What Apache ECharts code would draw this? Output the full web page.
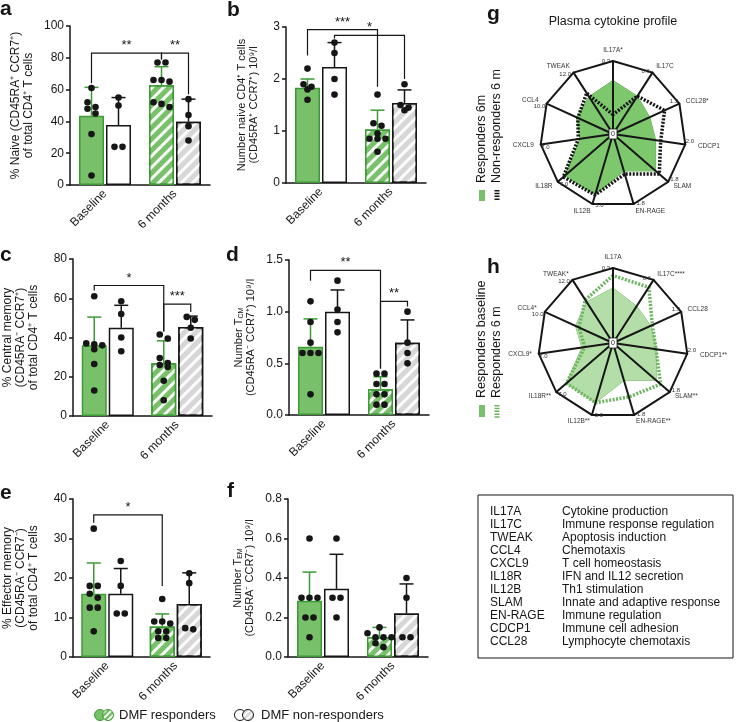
<!DOCTYPE html>
<html>
<head>
<meta charset="utf-8">
<script src="https://cdn.jsdelivr.net/npm/echarts@6/dist/echarts.min.js"></script>
<style>
html, body { margin: 0; padding: 0; background: #fff; }
#main { width: 737px; height: 722px; }
</style>
</head>
<body>
<div id="main"></div>
<script>
const FONT = 'Liberation Sans, Arial, Helvetica, sans-serif'
const GREEN = '#78c06a'
const GREEN_LINE = '#3d9a35'
const GREY = '#d7d7d7'
const INK = '#161616'

const groups = ['Baseline', '6 months']
// every panel: responders baseline, non-responders baseline, responders 6 m, non-responders 6 m

// a - % naive
const aTicks = [0, 20, 40, 60, 80, 100]
const aMean = [43.6, 37.7, 62.7, 39.8]
const aSd = [17.8, 17.3, 11.7, 14.2]
const aDots = [[61, 52, 49, 48, 45, 32, 6], [55, 50, 24, 24], [77, 77, 66, 66, 65, 52, 51, 49], [54, 44, 37, 28]]
const aSig = [[0, 2, 83, 64, 79, '**'], [2, 3, 83, 79, 57, '**']]

// b - number naive
const bTicks = [0, 1, 2, 3]
const bMean = [1.83, 2.23, 1.03, 1.54]
const bSd = [0.17, 0.47, 0.37, 0.25]
const bDots = [[2.2, 1.9, 1.85, 1.8, 1.6], [2.7, 2.5, 2.0, 1.7], [1.7, 1.15, 1.1, 0.95, 0.85, 0.85, 0.85, 0.6], [1.9, 1.5, 1.45, 1.4]]
const bSig = [[0, 2, 2.95, 2.45, 1.85, '***'], [1, 3, 2.84, 2.78, 2.0, '*']]

// c - % central memory
const cTicks = [0, 20, 40, 60, 80]
const cMean = [36.1, 45.0, 26.9, 45.3]
const cSd = [14.3, 11.4, 11.4, 5.6]
const cDots = [[61, 37, 36.5, 36, 34, 26.5, 13], [58.5, 52, 40, 33], [41.5, 39.5, 29.5, 27, 26, 25, 18, 8], [50.5, 49, 45, 39.5]]
const cSig = [[0, 2, 66.5, 64, 43, '*'], [2, 3, 57, 43, 53, '***']]

// d - number TCM
const dTicks = [0, 0.5, 1.0, 1.5]
const dMean = [0.66, 1.0, 0.25, 0.7]
const dSd = [0.27, 0.21, 0.12, 0.22]
const dDots = [[1.1, 0.9, 0.7, 0.6, 0.6, 0.6, 0.2], [1.3, 1.02, 0.9, 0.8], [0.4, 0.4, 0.3, 0.3, 0.2, 0.2, 0.1, 0.1], [1.0, 0.7, 0.6, 0.5]]
const dSig = [[0, 2, 1.4, 1.3, 0.45, '**'], [2, 3, 1.1, 0.45, 1.05, '**']]

// e - % effector memory
const eTicks = [0, 10, 20, 30, 40]
const eMean = [16, 16, 7.7, 13.4]
const eSd = [7.8, 6.4, 3.2, 7.9]
const eDots = [[32.5, 18, 18, 16, 15, 12.5, 12.5, 6.5], [24.3, 18, 11, 11], [14.7, 9, 9, 8.5, 6.5, 6.5, 4.8, 4.8], [21.2, 18.7, 7.3, 7]]
const eSig = [[0, 2, 36, 34, 18, '*']]

// f - number TEM
const fTicks = [0, 0.2, 0.4, 0.6, 0.8]
const fMean = [0.285, 0.345, 0.1, 0.22]
const fSd = [0.145, 0.175, 0.05, 0.15]
const fDots = [[0.6, 0.3, 0.3, 0.3, 0.2, 0.2, 0.1], [0.6, 0.3, 0.3, 0.2], [0.15, 0.12, 0.1, 0.1, 0.1, 0.07, 0.05], [0.4, 0.3, 0.1, 0.1]]
const fSig = []

// radar (clockwise from top)
const gNames = ['IL17A*', 'IL17C', 'CCL28*', 'CDCP1', 'SLAM', 'EN-RAGE', 'IL12B', 'IL18R', 'CXCL9', 'CCL4', 'TWEAK']
const hNames = ['IL17A', 'IL17C****', 'CCL28', 'CDCP1**', 'SLAM**', 'EN-RAGE**', 'IL12B**', 'IL18R**', 'CXCL9*', 'CCL4*', 'TWEAK*']
const cytoMax = [0.3, 0.6, 1.3, 2.0, 1.8, 1.8, 5.0, 7.0, 7.0, 10.0, 12.0]
const gResp6m = [0.22, 0.37, 0.72, 1.18, 1.39, 0.95, 4.35, 6.1, 3.2, 5.5, 7.3]
const gNon6m = [0.08, 0.37, 1.01, 1.32, 1.51, 1.03, 4.35, 6.3, 3.36, 5.3, 8.0]
const hRespBase = [0.22, 0.35, 0.72, 1.18, 1.37, 0.94, 4.15, 5.74, 2.94, 5.5, 7.8]
const hResp6m = [0.27, 0.53, 0.75, 1.16, 1.51, 1.35, 4.15, 5.74, 2.66, 5.0, 8.2]

// box
const boxNames = ['IL17A', 'IL17C', 'TWEAK', 'CCL4', 'CXCL9', 'IL18R', 'IL12B', 'SLAM', 'EN-RAGE', 'CDCP1', 'CCL28']
const boxRoles = ['Cytokine production', 'Immune response regulation', 'Apoptosis induction', 'Chemotaxis',
  'T cell homeostasis', 'IFN and IL12 secretion', 'Th1 stimulation', 'Innate and adaptive response',
  'Immune regulation', 'Immune cell adhesion', 'Lymphocyte chemotaxis']

const panels = [
  { mean: aMean, sd: aSd, dots: aDots, sig: aSig, ticks: aTicks, dec: 0, left: 70, top: 26, height: 159,
    name: '% Naive (CD45RA⁺ CCR7⁺)\nof total CD4⁺ T cells', nameGap: 35, nameSize: 12 },
  { mean: bMean, sd: bSd, dots: bDots, sig: bSig, ticks: bTicks, dec: 0, left: 286, top: 27, height: 156,
    name: 'Number naive CD4⁺ T cells\n(CD45RA⁺ CCR7⁺) 10⁹/l', nameGap: 26, nameSize: 11 },
  { mean: cMean, sd: cSd, dots: cDots, sig: cSig, ticks: cTicks, dec: 0, left: 72, top: 259, height: 157,
    name: '% Central memory\n(CD45RA⁻ CCR7⁺)\nof total CD4⁺ T cells', nameGap: 33, nameSize: 12 },
  { mean: dMean, sd: dSd, dots: dDots, sig: dSig, ticks: dTicks, dec: 1, left: 289, top: 260, height: 155,
    name: '{t|Number T}{s|CM}\n(CD45RA⁻ CCR7⁺) 10⁹/l', nameGap: 32, nameSize: 11 },
  { mean: eMean, sd: eSd, dots: eDots, sig: eSig, ticks: eTicks, dec: 0, left: 70, top: 499, height: 158,
    name: '% Effector memory\n(CD45RA⁻ CCR7⁻)\nof total CD4⁺ T cells', nameGap: 33, nameSize: 12 },
  { mean: fMean, sd: fSd, dots: fDots, sig: fSig, ticks: fTicks, dec: 1, left: 288, top: 499, height: 158,
    name: '{t|Number T}{s|EM}\n(CD45RA⁻ CCR7⁻) 10⁹/l', nameGap: 32, nameSize: 11 }
]

const BAR_W = 25
const GAP = 2
const OFF = (BAR_W + GAP) / 2

// simple beeswarm: dots with nearly equal values sit side by side
function swarm (vals, pxPerUnit) {
  const order = vals.map((v, i) => i).sort((p, q) => vals[q] - vals[p])
  const off = vals.map(() => 0)
  let i = 0
  while (i < order.length) {
    let j = i + 1
    while (j < order.length && (vals[order[i]] - vals[order[j]]) * pxPerUnit < 5) j++
    const n = j - i
    for (let k = i; k < j; k++) off[order[k]] = (k - i - (n - 1) / 2) * 8
    i = j
  }
  return off
}

function barX (api, b) {
  const cx = api.coord([b < 2 ? 0 : 1, 0])[0]
  return cx + (b % 2 ? OFF : -OFF)
}

const HATCH = {
  symbol: 'rect',
  symbolSize: 1,
  dashArrayX: [1, 0],
  dashArrayY: [3, 5],
  rotation: -Math.PI / 4,
  color: 'rgba(255,255,255,0.95)'
}

const grid = []
const xAxis = []
const yAxis = []
const series = []

panels.forEach((p, i) => {
  const max = p.ticks[p.ticks.length - 1]
  grid.push({ left: p.left, top: p.top, width: 140, height: p.height })
  xAxis.push({
    gridIndex: i,
    type: 'category',
    data: groups,
    axisLine: { lineStyle: { color: INK, width: 1.5 } },
    axisTick: { show: false },
    axisLabel: { rotate: 45, margin: 7, fontSize: 12, color: INK, fontFamily: FONT, interval: 0 }
  })
  yAxis.push({
    gridIndex: i,
    type: 'value',
    min: 0,
    max: max,
    interval: p.ticks[1] - p.ticks[0],
    name: p.name,
    nameLocation: 'middle',
    nameRotate: 90,
    nameGap: p.nameGap,
    nameTextStyle: {
      fontSize: p.nameSize,
      fontFamily: FONT,
      color: INK,
      lineHeight: p.nameSize + 1,
      rich: {
        t: { fontSize: p.nameSize, fontFamily: FONT, color: INK, lineHeight: p.nameSize + 1 },
        s: { fontSize: 7, fontFamily: FONT, color: INK, lineHeight: p.nameSize + 1, verticalAlign: 'bottom' }
      }
    },
    axisLine: { show: true, lineStyle: { color: INK, width: 1.5 } },
    axisTick: { show: true, length: 4, lineStyle: { color: INK, width: 1.5 } },
    axisLabel: {
      margin: 6,
      fontSize: 12,
      color: INK,
      fontFamily: FONT,
      formatter: v => v.toFixed(p.dec)
    },
    splitLine: { show: false }
  })

  series.push({
    type: 'bar',
    name: 'DMF responders',
    xAxisIndex: i,
    yAxisIndex: i,
    barWidth: BAR_W,
    barGap: '8%',
    itemStyle: { borderColor: GREEN_LINE, borderWidth: 1.5 },
    data: [
      { value: p.mean[0], itemStyle: { color: GREEN } },
      { value: p.mean[2], itemStyle: { color: GREEN, decal: HATCH } }
    ]
  })
  series.push({
    type: 'bar',
    name: 'DMF non-responders',
    xAxisIndex: i,
    yAxisIndex: i,
    barWidth: BAR_W,
    barGap: '8%',
    itemStyle: { borderColor: INK, borderWidth: 1.5 },
    data: [
      { value: p.mean[1], itemStyle: { color: '#fff' } },
      { value: p.mean[3], itemStyle: { color: GREY, decal: HATCH } }
    ]
  })

  // error bars (mean + SD)
  series.push({
    type: 'custom',
    xAxisIndex: i,
    yAxisIndex: i,
    z: 3,
    encode: { x: 0, y: 1 },
    data: p.mean.map((m, b) => [b < 2 ? 0 : 1, m + p.sd[b], b]),
    renderItem: function (params, api) {
      const b = api.value(2)
      const x = barX(api, b)
      const y0 = api.coord([0, p.mean[b]])[1]
      const y1 = api.coord([0, p.mean[b] + p.sd[b]])[1]
      const col = b % 2 ? INK : GREEN_LINE
      return {
        type: 'group',
        children: [
          { type: 'line', shape: { x1: x, y1: y0, x2: x, y2: y1 }, style: { stroke: col, lineWidth: 1.5 } },
          { type: 'line', shape: { x1: x - 7, y1: y1, x2: x + 7, y2: y1 }, style: { stroke: col, lineWidth: 1.5 } }
        ]
      }
    }
  })

  // individual dots
  const pxPerUnit = p.height / max
  const dotData = []
  p.dots.forEach((vals, b) => {
    const off = swarm(vals, pxPerUnit)
    vals.forEach((v, k) => dotData.push([b < 2 ? 0 : 1, v, b, off[k]]))
  })
  series.push({
    type: 'custom',
    xAxisIndex: i,
    yAxisIndex: i,
    z: 4,
    encode: { x: 0, y: 1 },
    data: dotData,
    renderItem: function (params, api) {
      const x = barX(api, api.value(2)) + api.value(3)
      const y = api.coord([0, api.value(1)])[1]
      return { type: 'circle', shape: { cx: x, cy: y, r: 3.3 }, style: { fill: INK } }
    }
  })

  // significance brackets
  if (p.sig.length) {
    series.push({
      type: 'custom',
      xAxisIndex: i,
      yAxisIndex: i,
      z: 4,
      encode: { x: 0, y: 1 },
      data: p.sig.map(s => [0, s[2]]),
      renderItem: function (params, api) {
        const s = p.sig[params.dataIndex]
        const xa = barX(api, s[0])
        const xb = barX(api, s[1])
        const yl = api.coord([0, s[2]])[1]
        const ya = api.coord([0, s[3]])[1]
        const yb = api.coord([0, s[4]])[1]
        return {
          type: 'group',
          children: [
            { type: 'polyline', shape: { points: [[xa, ya], [xa, yl], [xb, yl], [xb, yb]] }, style: { stroke: INK, lineWidth: 1.2, fill: null } },
            { type: 'text', style: { text: s[5], x: (xa + xb) / 2, y: yl - 1, align: 'center', verticalAlign: 'bottom', fontSize: 13, fontFamily: FONT, fill: INK } }
          ]
        }
      }
    })
  }
})

// radar indicators run counter-clockwise in echarts
const ccw = arr => [0, 10, 9, 8, 7, 6, 5, 4, 3, 2, 1].map(k => arr[k])

function radarOf (names, center, radius) {
  return {
    center: center,
    radius: radius,
    startAngle: 90,
    splitNumber: 1,
    shape: 'polygon',
    z: 3,
    indicator: ccw(names.map((n, k) => ({ name: n, max: cytoMax[k], min: 0 }))),
    axisName: { color: '#333', fontSize: 6.5, fontFamily: FONT },
    nameGap: 7,
    axisLine: { lineStyle: { color: INK, width: 2 } },
    splitLine: { lineStyle: { color: INK, width: 2 } },
    splitArea: { show: false },
    axisTick: { show: false },
    axisLabel: {
      show: true,
      fontSize: 6,
      color: '#333',
      fontFamily: FONT,
      margin: 3,
      formatter: v => (v === 0 ? '' : Number(v).toFixed(1))
    }
  }
}

series.push({
  type: 'radar',
  radarIndex: 0,
  symbol: 'none',
  z: 2,
  data: [
    { name: 'Responders 6m', value: ccw(gResp6m), lineStyle: { color: '#56a548', width: 1 }, areaStyle: { color: '#7dc76d', opacity: 1 } },
    { name: 'Non-responders 6 m', value: ccw(gNon6m), lineStyle: { color: INK, width: 3.5, type: [2, 1.5] } }
  ]
})
series.push({
  type: 'radar',
  radarIndex: 1,
  symbol: 'none',
  z: 2,
  data: [
    { name: 'Responders baseline', value: ccw(hRespBase), lineStyle: { color: '#78b86a', width: 1 }, areaStyle: { color: '#b4dea8', opacity: 1 } },
    { name: 'Responders 6 m', value: ccw(hResp6m), lineStyle: { color: '#6cb55e', width: 3.5, type: [2, 1.5] } }
  ]
})

function stripes (bg) {
  const c = document.createElement('canvas')
  c.width = c.height = 6
  const g = c.getContext('2d')
  g.fillStyle = bg
  g.fillRect(0, 0, 6, 6)
  g.strokeStyle = '#fff'
  g.lineWidth = 1.6
  g.beginPath()
  g.moveTo(0, 6); g.lineTo(6, 0)
  g.moveTo(-1, 1); g.lineTo(1, -1)
  g.moveTo(5, 7); g.lineTo(7, 5)
  g.stroke()
  return { image: c, repeat: 'repeat' }
}

const txt = (text, x, y, extra) => ({
  type: 'text', x: x, y: y,
  style: Object.assign({ text: text, fontFamily: FONT, fontSize: 12, fill: INK, verticalAlign: 'middle' }, extra || {})
})

const graphic = []
const letters = [['a', 0, 9], ['b', 227, 10], ['c', 0, 255], ['d', 226, 255], ['e', 0, 493], ['f', 227, 491], ['g', 487, 14], ['h', 487, 267]]
letters.forEach(l => graphic.push(txt(l[0], l[1], l[2], { fontSize: 21, fontWeight: 'bold' })))

graphic.push(txt('Plasma cytokine profile', 613, 22, { align: 'center', fontSize: 12.5 }))

// radar legends
graphic.push(txt('Responders 6m', 482, 183, { align: 'left', fontSize: 12.5 }))
graphic[graphic.length - 1].rotation = Math.PI / 2
graphic.push(txt('Non-responders 6 m', 497, 183, { align: 'left', fontSize: 12.5 }))
graphic[graphic.length - 1].rotation = Math.PI / 2
graphic.push({ type: 'rect', shape: { x: 479, y: 190, width: 6, height: 11 }, style: { fill: GREEN } })
graphic.push({ type: 'line', shape: { x1: 497, y1: 190, x2: 497, y2: 201 }, style: { stroke: INK, lineWidth: 5, lineDash: [1.5, 1.3] } })

graphic.push(txt('Responders baseline', 482, 398, { align: 'left', fontSize: 12.5 }))
graphic[graphic.length - 1].rotation = Math.PI / 2
graphic.push(txt('Responders 6 m', 497, 398, { align: 'left', fontSize: 12.5 }))
graphic[graphic.length - 1].rotation = Math.PI / 2
graphic.push({ type: 'rect', shape: { x: 479, y: 405, width: 6, height: 12 }, style: { fill: GREEN } })
graphic.push({ type: 'line', shape: { x1: 497, y1: 405, x2: 497, y2: 418 }, style: { stroke: '#6cb55e', lineWidth: 5, lineDash: [1.5, 1.3] } })

// zero marks at radar centres
;[[613, 134], [613, 343]].forEach(c => {
  graphic.push({ type: 'rect', z: 10, shape: { x: c[0] - 4, y: c[1] - 5, width: 8, height: 10 }, style: { fill: '#fff', stroke: INK, lineWidth: 0.8 } })
  graphic.push(Object.assign(txt('0', c[0], c[1], { align: 'center', fontSize: 7 }), { z: 11 }))
})

// glossary box
graphic.push({ type: 'rect', shape: { x: 478, y: 495, width: 255, height: 163 }, style: { fill: null, stroke: INK, lineWidth: 1 } })
boxNames.forEach((n, k) => {
  graphic.push(txt(n, 490, 512 + k * 13, { fontSize: 12 }))
  graphic.push(txt(boxRoles[k], 562, 512 + k * 13, { fontSize: 12 }))
})

// bottom legend
graphic.push({ type: 'circle', shape: { cx: 100, cy: 715, r: 5.5 }, style: { fill: GREEN, stroke: GREEN_LINE, lineWidth: 1 } })
graphic.push({ type: 'circle', shape: { cx: 108, cy: 715, r: 5.5 }, style: { fill: stripes(GREEN), stroke: GREEN_LINE, lineWidth: 1 } })
graphic.push(txt('DMF responders', 119, 715, { fontSize: 13 }))
graphic.push({ type: 'circle', shape: { cx: 240, cy: 715, r: 5.5 }, style: { fill: '#fff', stroke: INK, lineWidth: 1 } })
graphic.push({ type: 'circle', shape: { cx: 248, cy: 715, r: 5.5 }, style: { fill: stripes(GREY), stroke: INK, lineWidth: 1 } })
graphic.push(txt('DMF non-responders', 261, 715, { fontSize: 13 }))

const chart = echarts.init(document.getElementById('main'))
chart.setOption({
  animation: false,
  backgroundColor: '#fff',
  textStyle: { fontFamily: FONT },
  grid: grid,
  xAxis: xAxis,
  yAxis: yAxis,
  radar: [radarOf(gNames, [613, 134], 73), radarOf(hNames, [613, 343], 75)],
  series: series,
  graphic: graphic
})
</script>
</body>
</html>
